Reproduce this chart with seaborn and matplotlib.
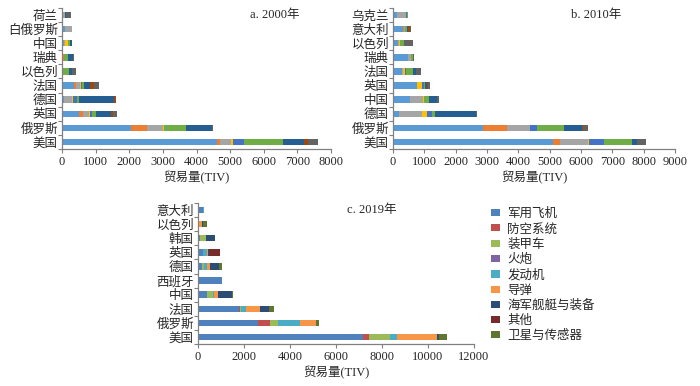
import numpy as np
import pandas as pd
import matplotlib
matplotlib.use('Agg')
import matplotlib.pyplot as plt
import seaborn as sns
from matplotlib.patches import Patch
from matplotlib.ticker import FixedLocator, MultipleLocator

sns.set_theme(style='white')
plt.rcParams['font.family'] = ['Liberation Serif', 'Noto Sans CJK SC']

types = ['军用飞机', '防空系统', '装甲车', '火炮', '发动机', '导弹', '海军舰艇与装备', '其他', '卫星与传感器']

countries_2000 = ['荷兰', '白俄罗斯', '中国', '瑞典', '以色列', '法国', '德国', '英国', '俄罗斯', '美国']
values_2000 = [
    [0, 0, 100, 0, 0, 0, 30, 0, 150],
    [100, 0, 190, 0, 0, 0, 0, 0, 0],
    [50, 0, 30, 100, 0, 60, 60, 0, 0],
    [20, 40, 0, 0, 0, 130, 150, 0, 30],
    [30, 0, 0, 0, 0, 180, 90, 0, 120],
    [350, 70, 120, 20, 30, 70, 180, 100, 160],
    [60, 0, 240, 20, 120, 80, 1040, 50, 10],
    [500, 110, 200, 20, 50, 130, 440, 60, 120],
    [2050, 470, 470, 50, 0, 660, 750, 20, 30],
    [4600, 110, 320, 70, 300, 1170, 630, 110, 300],
]

countries_2010 = ['乌克兰', '意大利', '以色列', '瑞典', '法国', '英国', '中国', '德国', '俄罗斯', '美国']
values_2010 = [
    [140, 0, 290, 0, 30, 30, 0, 0, 0],
    [320, 30, 20, 0, 0, 70, 40, 50, 30],
    [170, 0, 30, 20, 0, 120, 0, 0, 300],
    [480, 0, 80, 0, 0, 80, 0, 0, 30],
    [290, 0, 40, 60, 40, 210, 80, 0, 160],
    [760, 0, 0, 170, 60, 20, 90, 30, 50],
    [530, 0, 430, 40, 0, 140, 270, 0, 70],
    [180, 0, 730, 180, 170, 80, 1300, 20, 20],
    [2870, 770, 740, 0, 210, 860, 580, 40, 150],
    [5120, 220, 880, 50, 450, 900, 180, 0, 270],
]

countries_2019 = ['意大利', '以色列', '韩国', '英国', '德国', '西班牙', '中国', '法国', '俄罗斯', '美国']
values_2019 = [
    [220, 0, 0, 0, 50, 0, 0, 0, 0],
    [30, 0, 0, 0, 0, 140, 60, 0, 160],
    [100, 0, 250, 0, 0, 0, 400, 0, 10],
    [220, 0, 0, 0, 170, 50, 50, 470, 0],
    [160, 0, 90, 0, 160, 100, 390, 0, 140],
    [1030, 0, 30, 0, 0, 0, 0, 0, 0],
    [390, 0, 260, 0, 40, 170, 620, 0, 40],
    [1800, 40, 40, 0, 200, 610, 410, 0, 220],
    [2590, 520, 380, 0, 940, 700, 0, 0, 150],
    [7160, 290, 900, 0, 320, 1730, 90, 0, 320],
]

colors_new = ['#5B9BD5', '#ED7D31', '#A5A5A5', '#FFC000', '#4472C4', '#70AD47', '#255E91', '#9E480E', '#636363']
colors_old = ['#4F81BD', '#C0504D', '#9BBB59', '#8064A2', '#4BACC6', '#F79646', '#2C4D75', '#772C2A', '#5F7530']

fig = plt.figure(figsize=(7.0, 3.86), dpi=100)

FS = 9


def panel(rect, countries, values, colors, xmax, xstep, title, title_pos):
    ax = fig.add_axes(rect)
    df = pd.DataFrame(values, index=countries, columns=types)
    cum = df.cumsum(axis=1)
    for i in range(len(types) - 1, -1, -1):
        t = types[i]
        d = pd.DataFrame({'country': countries, 'val': cum[t].values})
        sns.barplot(data=d, x='val', y='country', order=countries, color=colors[i],
                    orient='h', width=0.45, saturation=1, errorbar=None,
                    linewidth=0, ax=ax)
    ax.set_xlim(0, xmax)
    ax.set_ylim(len(countries) - 0.5, -0.5)
    ax.xaxis.set_major_locator(MultipleLocator(xstep))
    ax.set_xlabel('贸易量(TIV)', fontsize=FS, labelpad=2)
    ax.set_ylabel('')
    ax.yaxis.set_minor_locator(FixedLocator(np.arange(-0.5, len(countries), 1)))
    ax.tick_params(axis='y', which='major', length=0, labelsize=FS, pad=3)
    ax.tick_params(axis='y', which='minor', length=3, width=0.8, color='#808080', direction='out', left=True)
    ax.tick_params(axis='x', which='major', length=3, width=0.8, color='#808080', direction='out',
                   bottom=True, labelsize=FS, pad=2)
    for s in ['top', 'right']:
        ax.spines[s].set_visible(False)
    for s in ['left', 'bottom']:
        ax.spines[s].set_color('#808080')
        ax.spines[s].set_linewidth(0.9)
    ax.text(title_pos[0], title_pos[1], title, transform=ax.transAxes, fontsize=FS,
            ha='left', va='center')
    return ax


H = 386.0
W = 700.0


def rect(l, r, t, b):
    return [l / W, (H - b) / H, (r - l) / W, (b - t) / H]


panel(rect(62, 331, 8, 149), countries_2000, values_2000, colors_new, 8000, 1000,
      'a. 2000年', (0.70, 0.95))
panel(rect(393, 675, 8, 149), countries_2010, values_2010, colors_new, 9000, 1000,
      'b. 2010年', (0.63, 0.95))
panel(rect(198, 474, 203, 344), countries_2019, values_2019, colors_old, 12000, 2000,
      'c. 2019年', (0.54, 0.95))

handles = [Patch(facecolor=c, edgecolor='none', label=t) for c, t in zip(colors_old, types)]
fig.legend(handles=handles, loc='upper left', bbox_to_anchor=(491 / W, (H - 208) / H),
           frameon=False, fontsize=FS, handlelength=0.7, handleheight=0.5,
           handletextpad=0.6, labelspacing=0.25, borderpad=0, borderaxespad=0)

fig.savefig('out.png', dpi=100)
